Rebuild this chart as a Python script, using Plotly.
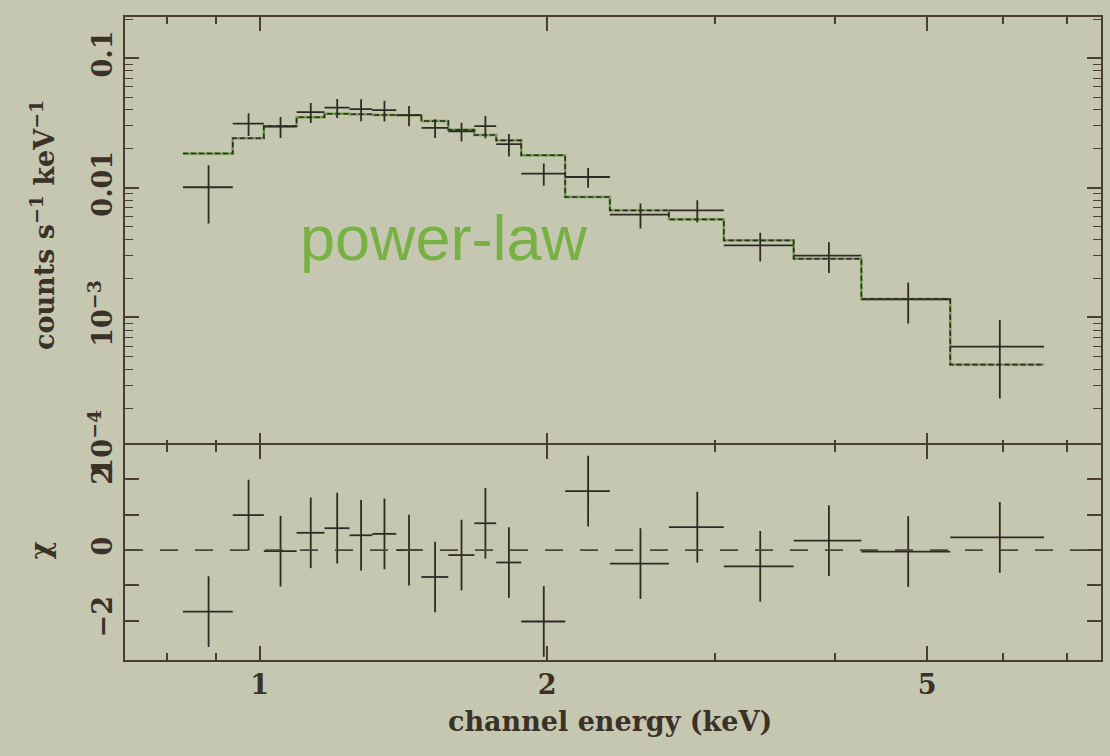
import plotly.graph_objects as go

# ---- data ----
bin_lo = [0.831, 0.937, 1.010, 1.093, 1.169, 1.242, 1.312, 1.390, 1.477, 1.576,
          1.678, 1.769, 1.879, 2.089, 2.327, 2.683, 3.063, 3.625, 4.268, 5.288]
bin_hi = [0.937, 1.010, 1.093, 1.169, 1.242, 1.312, 1.390, 1.477, 1.576, 1.678,
          1.769, 1.879, 2.089, 2.327, 2.683, 3.063, 3.625, 4.268, 5.288, 6.631]
rate = [0.0101, 0.0313, 0.0297, 0.0383, 0.0415, 0.0404, 0.0397, 0.0363, 0.0290, 0.0273,
        0.0299, 0.0217, 0.01288, 0.01211, 0.0062, 0.0067, 0.0036, 0.0030, 0.00138, 0.000597]
rate_err = [0.0048, 0.0062, 0.0055, 0.0067, 0.0069, 0.0078, 0.0073, 0.0065, 0.0048, 0.0045,
            0.0058, 0.0043, 0.0025, 0.0021, 0.00135, 0.0013, 0.0009, 0.0008, 0.00048, 0.00036]
model = [0.0184, 0.0241, 0.0299, 0.0350, 0.0372, 0.0369, 0.0364, 0.0363, 0.0327, 0.0280,
         0.0255, 0.0232, 0.0178, 0.00849, 0.0067, 0.00571, 0.00393, 0.00284, 0.00139, 0.000433]
resid = [-1.74, 0.99, -0.03, 0.49, 0.62, 0.42, 0.46, 0.0, -0.76, -0.14,
         0.76, -0.35, -2.02, 1.67, -0.38, 0.65, -0.46, 0.27, -0.04, 0.36]
resid_err = [1.0] * len(resid)

x_ticks = [1, 2, 5]
x_minor = [0.8, 0.9, 3, 4, 6, 7]
y_ticks = [0.1, 0.01, 0.001, 0.0001]
y_ticktext = ["0.1", "0.01", "10<sup>−3</sup>", "10<sup>−4</sup>"]
y_minor = [m * 10.0 ** e for e in (-4, -3, -2, -1) for m in range(2, 10)]
r_ticks = [-2, -1, 0, 1, 2]
r_ticktext = ["−2", "", "0", "", "2"]

BG = "#c6c7b1"
INK = "#2e2b24"
AX = "#4a3e33"
GREEN = "#77b043"

centers = [(a + b) / 2 for a, b in zip(bin_lo, bin_hi)]
xm = [c - a for c, a in zip(centers, bin_lo)]
xp = [b - c for c, b in zip(centers, bin_hi)]

fig = go.Figure()

# model step line (green underlay + dark dashes)
step_x = bin_lo + [bin_hi[-1]]
step_y = model + [model[-1]]
fig.add_trace(go.Scatter(x=step_x, y=step_y, mode="lines", line_shape="hv",
                         line=dict(color="#6f9c4c", width=2.4), xaxis="x", yaxis="y",
                         hoverinfo="skip"))
fig.add_trace(go.Scatter(x=step_x, y=step_y, mode="lines", line_shape="hv",
                         line=dict(color="#2a2a22", width=1.6, dash="5px,3px"),
                         xaxis="x", yaxis="y", hoverinfo="skip"))

# data crosses (top)
fig.add_trace(go.Scatter(
    x=centers, y=rate, mode="markers", marker=dict(size=1, color=INK),
    error_x=dict(type="data", array=xp, arrayminus=xm, width=0, thickness=1.8, color=INK),
    error_y=dict(type="data", array=rate_err, width=0, thickness=1.8, color=INK),
    xaxis="x", yaxis="y"))

# residual crosses
fig.add_trace(go.Scatter(
    x=centers, y=resid, mode="markers", marker=dict(size=1, color=INK),
    error_x=dict(type="data", array=xp, arrayminus=xm, width=0, thickness=1.8, color=INK),
    error_y=dict(type="data", array=resid_err, width=0, thickness=1.8, color=INK),
    xaxis="x2", yaxis="y2"))

fig.add_shape(type="line", xref="x2 domain", yref="y2", x0=0, x1=1, y0=0, y1=0,
              line=dict(color="#4a473e", width=1.7, dash="18px,17px"))

FONT = dict(family="DejaVu Serif", size=27, color="#3b3127", weight="bold")
xr = [-0.1411, 0.8812]
axis_common = dict(showline=True, linecolor=AX, linewidth=2, mirror="ticks",
                   ticks="inside", tickcolor=AX, tickwidth=1.6, showgrid=False,
                   zeroline=False, tickfont=FONT)

split = 0.331
fig.update_layout(
    width=1110, height=756, showlegend=False,
    paper_bgcolor=BG, plot_bgcolor=BG,
    margin=dict(l=125, r=7, t=17, b=96),
    xaxis=dict(type="log", range=xr, domain=[0, 1], anchor="y", showticklabels=False,
               tickmode="array", tickvals=x_ticks, ticklen=14,
               minor=dict(tickmode="array", tickvals=x_minor, ticks="inside", ticklen=7,
                          tickcolor=AX, tickwidth=1.6),
               **axis_common),
    yaxis=dict(type="log", range=[-4.0, -0.683], domain=[split, 1], anchor="x",
               tickmode="array", tickvals=y_ticks, ticktext=y_ticktext, ticklen=14,
               tickangle=-90,
               minor=dict(tickmode="array", tickvals=y_minor, ticks="inside", ticklen=8,
                          tickcolor=AX, tickwidth=1.4),
               **axis_common),
    xaxis2=dict(type="log", range=xr, domain=[0, 1], anchor="y2", matches="x",
                tickmode="array", tickvals=x_ticks, ticklen=14,
                minor=dict(tickmode="array", tickvals=x_minor, ticks="inside", ticklen=7,
                           tickcolor=AX, tickwidth=1.6),
                **axis_common),
    yaxis2=dict(range=[-3.11, 2.97], domain=[0, split + 2.0 / 643], anchor="x2",
                tickmode="array", tickvals=r_ticks, ticktext=r_ticktext, ticklen=14,
                tickangle=-90, **axis_common),
)

fig.add_annotation(text="counts s<sup>−1</sup> keV<sup>−1</sup>", xref="paper", yref="paper",
                   x=-0.085, y=0.6765, textangle=-90, showarrow=False, font=FONT,
                   xanchor="center", yanchor="middle")
fig.add_annotation(text="χ", xref="paper", yref="paper", x=-0.087, y=0.171,
                   textangle=-90, showarrow=False, font=FONT, xanchor="center", yanchor="middle")
fig.add_annotation(text="channel energy (keV)", xref="paper", yref="paper",
                   x=0.497, y=-0.0964, showarrow=False, font=FONT,
                   xanchor="center", yanchor="middle")
fig.add_annotation(text="power-law", xref="paper", yref="paper", x=0.327, y=0.656,
                   showarrow=False, font=dict(family="Liberation Sans", size=63, color=GREEN),
                   xanchor="center", yanchor="middle")

fig.write_html("out.html", config={"displayModeBar": False},
               post_script="document.body.style.margin='0';")
